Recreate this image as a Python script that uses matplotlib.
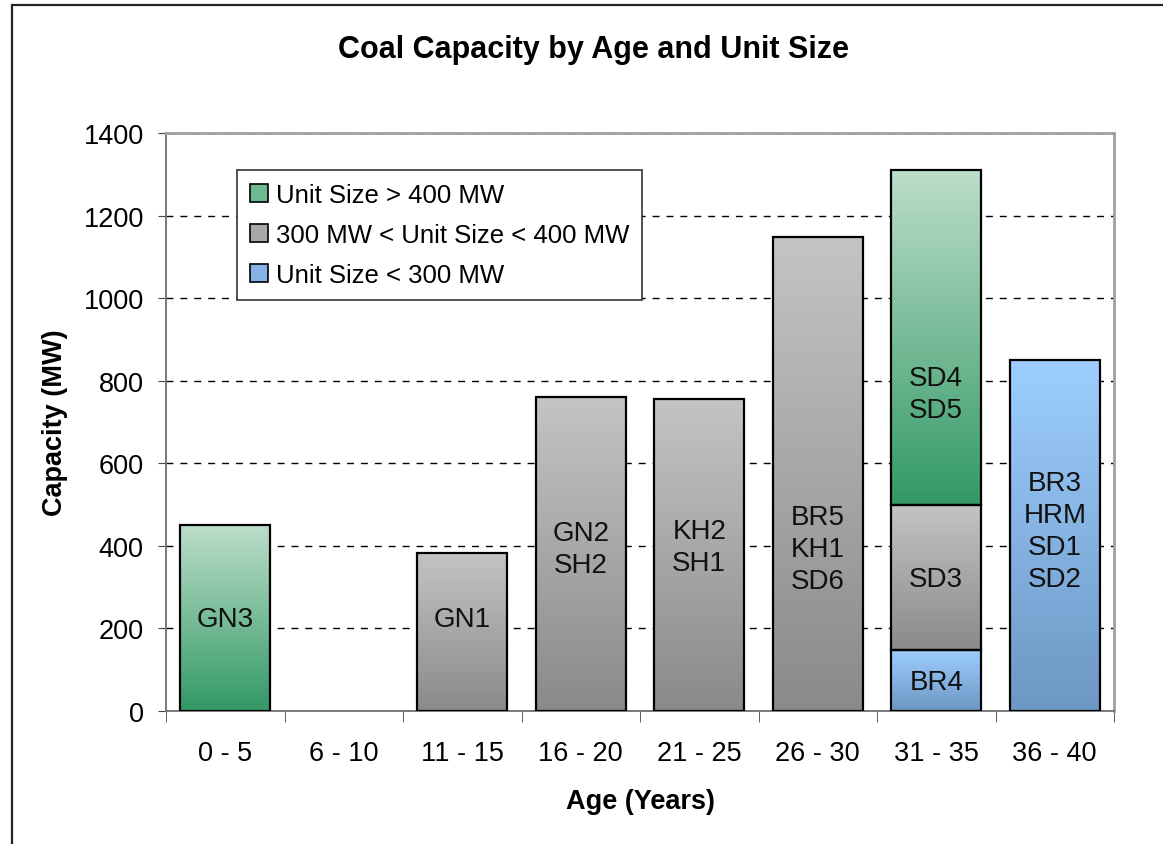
import matplotlib
matplotlib.use("Agg")
import matplotlib.pyplot as plt
import numpy as np
from matplotlib.patches import Patch, Rectangle
from matplotlib.colors import LinearSegmentedColormap

plt.rcParams['font.family'] = ['Liberation Sans', 'DejaVu Sans']

# capacity (MW) per age bracket, split by unit size
ages = ['0 - 5', '6 - 10', '11 - 15', '16 - 20', '21 - 25', '26 - 30', '31 - 35', '36 - 40']
small_units = [0, 0, 0, 0, 0, 0, 148, 850]       # < 300 MW
mid_units = [0, 0, 383, 760, 756, 1147, 352, 0]  # 300 - 400 MW
large_units = [450, 0, 0, 0, 0, 0, 810, 0]       # > 400 MW

# unit names written on the bars: (bracket index, height, text)
unit_labels = [
    (0, 222, 'GN3'),
    (2, 222, 'GN1'),
    (3, 392, 'GN2\nSH2'),
    (4, 397, 'KH2\nSH1'),
    (5, 392, 'BR5\nKH1\nSD6'),
    (6, 768, 'SD4\nSD5'),
    (6, 320, 'SD3'),
    (6, 70, 'BR4'),
    (7, 436, 'BR3\nHRM\nSD1\nSD2'),
]

legend_names = ['Unit Size > 400 MW', '300 MW < Unit Size < 400 MW', 'Unit Size < 300 MW']

# (top colour, bottom colour) for each gradient fill
green = ('#bcdeca', '#339966')
grey = ('#c4c4c4', '#8a8a8a')
blue = ('#9dceff', '#6d97c4')

fig = plt.figure(figsize=(11.63, 8.45), dpi=100)
ax = fig.add_axes([166 / 1163, 1 - 712 / 845, 948 / 1163, 578 / 845])

x = np.arange(len(ages))
width = 0.76


def gradient_bars(bars, colors):
    cmap = LinearSegmentedColormap.from_list('g', [colors[1], colors[0]])
    grad = np.linspace(0, 1, 256).reshape(-1, 1)
    for b in bars:
        h = b.get_height()
        if h <= 0:
            b.set_visible(False)
            continue
        x0, y0 = b.get_x(), b.get_y()
        im = ax.imshow(grad, cmap=cmap, origin='lower', aspect='auto',
                       extent=(x0, x0 + b.get_width(), y0, y0 + h), zorder=2)
        im.set_clip_path(b)
        b.set_facecolor('none')
        b.set_zorder(3)


bottom = np.zeros(len(ages))
for vals, cols in [(small_units, blue), (mid_units, grey), (large_units, green)]:
    bars = ax.bar(x, vals, width, bottom=bottom, edgecolor='black', linewidth=1.6)
    gradient_bars(bars, cols)
    bottom += np.array(vals)

for i, y, t in unit_labels:
    ax.text(i, y, t, ha='center', va='center', fontsize=20, linespacing=1.3,
            color='#111111', zorder=5)

ax.set_xlim(-0.5, len(ages) - 0.5)
ax.set_ylim(0, 1400)
ax.set_yticks(np.arange(0, 1401, 200))
ax.yaxis.grid(True, linestyle=(0, (5, 5)), color='black', linewidth=1)
ax.set_axisbelow(True)
ax.set_xticks(x)
ax.set_xticklabels(ages)
ax.set_xticks(np.arange(-0.5, len(ages)), minor=True)
ax.tick_params(axis='x', which='major', length=0, pad=21, labelsize=19.5)
ax.tick_params(axis='x', which='minor', length=8, color='#444444')
ax.tick_params(axis='y', length=6, pad=10, labelsize=19.5, color='#444444')

for s in ['left', 'bottom']:
    ax.spines[s].set_color('#707070')
    ax.spines[s].set_linewidth(1.3)
for s in ['top', 'right']:
    ax.spines[s].set_color('#a0a0a0')
    ax.spines[s].set_linewidth(2)

handles = [Patch(facecolor=c, edgecolor='black', linewidth=1.2)
           for c in ['#6fb98e', '#a8a8a8', '#85b3e3']]
leg = ax.legend(handles, legend_names, loc='upper left', bbox_to_anchor=(0.075, 0.936),
                borderaxespad=0, fontsize=18.5, fancybox=False, framealpha=1,
                edgecolor='#333333', handlelength=0.7, handleheight=0.7,
                handletextpad=0.3, labelspacing=0.62, borderpad=0.5)
leg.get_frame().set_linewidth(1.2)

fig.text(594 / 1163, 1 - 50 / 845, 'Coal Capacity by Age and Unit Size',
         ha='center', va='center', fontsize=22, fontweight='bold')
fig.text(55 / 1163, 1 - 423 / 845, 'Capacity (MW)', ha='center', va='center',
         rotation=90, fontsize=19.5, fontweight='bold')
fig.text(640 / 1163, 1 - 802 / 845, 'Age (Years)', ha='center', va='center',
         fontsize=19.5, fontweight='bold')

# outer chart frame (runs off the right and bottom edges)
fig.patches.append(Rectangle((12 / 1163, -0.5), 2, 0.5 + 1 - 6 / 845, fill=False,
                             edgecolor='#222222', linewidth=1.6,
                             transform=fig.transFigure, figure=fig))

fig.savefig('out.png', dpi=100)
